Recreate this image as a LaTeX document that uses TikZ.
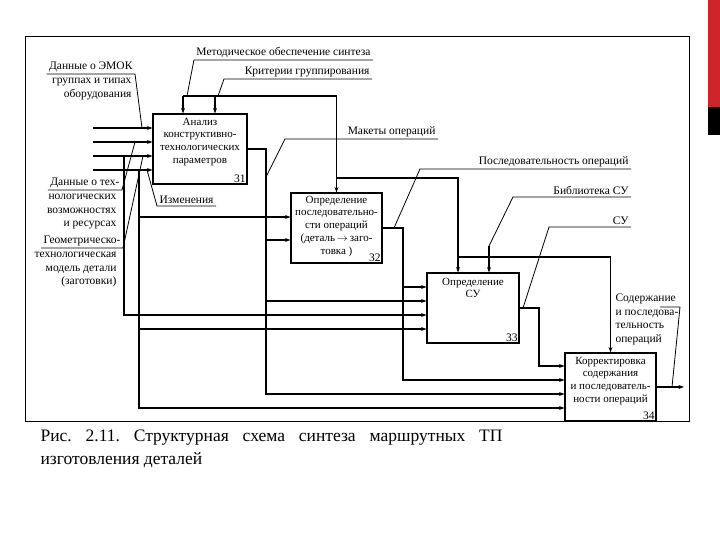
\documentclass[tikz,border=0pt]{standalone}
\usepackage{fontspec}
\setmainfont{Liberation Serif}
\usetikzlibrary{positioning, arrows.meta, calc}
\definecolor{barred}{RGB}{204,36,41}
\frenchspacing

\begin{document}
\begin{tikzpicture}[x=1pt, y=-1pt, line width=1.1pt,
  blk/.style={draw, rectangle, minimum width=92pt, minimum height=70pt, inner sep=0pt},
  btxt/.style={font=\fontsize{11}{12.7}\selectfont, align=center, inner sep=0pt},
  num/.style={font=\fontsize{11.5}{12}\selectfont, inner sep=1.5pt, anchor=south east},
  lbl/.style={font=\fontsize{11.5}{13.6}\selectfont, inner xsep=2pt, inner ysep=1.5pt},
  lead/.style={line width=0.8pt},
  arr/.style={-{Stealth[length=5.5pt, width=4pt]}}]
\useasboundingbox (0,0) rectangle (720,540);
\fill[barred] (708,0) rectangle (720,107);
\fill[black] (708,107) rectangle (720,135);
\draw[line width=1pt] (25,37) rectangle (689,421);

% blocks
\node[blk, minimum width=94pt] (b31) at (200,149) {};
\node[blk, minimum width=91pt] (b32) at (336.5,228) {};
\node[blk] (b33) at (473,308) {};
\node[blk, minimum width=91pt, minimum height=68pt] (b34) at (610.5,387) {};
\node[btxt, below=4pt of b31.north] (t31) {Анализ\\конструктивно-\\технологических\\параметров};
\node[btxt, below=3pt of b32.north] (t32) {Определение\\последовательно-\\сти операций\\(деталь\,$\to$\,заго-\\товка )\hspace{12pt}};
\node[btxt, below=5pt of b33.north] (t33) {Определение\\СУ};
\node[btxt, below=4pt of b34.north] (t34) {Корректировка\\содержания\\и последователь-\\ности операций};
\node[num] (n31) at (b31.south east) {31};
\node[num] (n32) at (b32.south east) {32};
\node[num] (n33) at (b33.south east) {33};
\node[num] (n34) at (b34.south east) {34};

% labels
\node[lbl, anchor=south] (lmet) at (283.5,60) {Методическое обеспечение синтеза};
\node[lbl, anchor=south east] (lkrit) at (372,79) {Критерии группирования};
\node[lbl, anchor=south east] (lmak) at (438,139) {Макеты операций};
\node[lbl, anchor=south east] (lpos) at (631,169) {Последовательность операций};
\node[lbl, anchor=south east] (lbib) at (631,197) {Библиотека СУ};
\node[lbl, anchor=south east] (lsu) at (631,227) {СУ};
\node[lbl, anchor=north west, align=left] (lsod) at (613,292) {Содержание\\и последова-\\тельность\\операций};
\node[lbl, anchor=south east] (lemok) at (135,74) {Данные о ЭМОК};
\node[lbl, align=right, below left=2pt and 1pt of lemok.south east] (lemok2) {группах и типах\\оборудования};
\node[lbl, anchor=south east] (ltex) at (122,190) {Данные о тех-};
\node[lbl, align=right, below left=2pt and 3pt of ltex.south east] (ltex2) {нологических\\возможностях\\и ресурсах};
\node[lbl, anchor=south east] (lgeo) at (123,248) {Геометрическо-};
\node[lbl, align=right, below left=2pt and 4pt of lgeo.south east] (lgeo2) {технологическая\\модель детали\\(заготовки)};
\node[lbl, anchor=south west] (lizm) at (157,206) {Изменения};

% inputs of 31
\coordinate (in1) at (93,128);
\coordinate (in2) at (93,142);
\coordinate (in3) at (93,156);
\coordinate (in4) at (93,170);
\draw[arr] (in1) -- (in1 -| b31.west);
\draw[arr] (in2) -- (in2 -| b31.west);
\draw[arr] (in3) -- (in3 -| b31.west);
\draw[arr] (in4) -- (in4 -| b31.west);

% branches going down on the left
\coordinate (g3) at (124,156);
\coordinate (g4) at (139,170);
\coordinate (g4a) at (139,217);
\coordinate (g4b) at (139,329);
\draw[arr] (g3) |- ($(b33.west)+(0,7)$);
\draw[arr] (g4) |- ($(b34.west)+(0,21)$);
\draw[arr] (g4a) -- (g4a -| b32.west);
\draw[arr] (g4b) -- (g4b -| b33.west);

% outputs
\coordinate (k31) at (266,240);
\coordinate (k31b) at (266,301);
\coordinate (k32) at (403,287);
\coordinate (k33) at (539,340);
\coordinate (out) at (684,387);
\draw[arr] (b31.east) -| (k31) |- ($(b34.west)+(0,7)$);
\draw[arr] (k31) -- (k31 -| b32.west);
\draw[arr] (k31b) -- (k31b -| b33.west);
\draw[arr] (b32.east) -| (k32) |- ($(b34.west)+(0,-7)$);
\draw[arr] (k32) -- (k32 -| b33.west);
\draw[arr] (b33.east) -| (k33) |- ($(b34.west)+(0,-21)$);
\draw[arr] (b34.east) -- (out);

% controls from above
\coordinate (m1) at (183,96);
\coordinate (m2) at (215,96);
\coordinate (m3) at (336.5,96);
\coordinate (m4) at (336.5,178);
\coordinate (m5) at (458,257);
\coordinate (lib) at (489,246);
\draw[arr] (m1) -- (m1 |- b31.north);
\draw[arr] (m2) -- (m2 |- b31.north);
\draw[arr] (m1) -- (m3) -- (b32.north);
\draw[arr] (m4) -| ($(b33.north)+(-15,0)$);
\draw[arr] (m5) -| (b34.north);
\draw[arr] (lib) -- (lib |- b33.north);

% leaders
\coordinate (p1) at (187,96);
\coordinate (p2) at (218,96);
\coordinate (p3) at (266,177);
\coordinate (p4) at (394,228);
\coordinate (p5) at (523,308);
\coordinate (p6) at (672,387);
\coordinate (p7) at (142,128);
\coordinate (p8) at (135,142);
\coordinate (p9) at (143,156);
\coordinate (p10) at (147,170);
\draw[lead] (lmet.south east) -- (lmet.south west) -- (p1);
\draw[lead] (lkrit.south east) -- ++(-148,0) -- (p2);
\draw[lead] (lmak.south east) -- ++(-153,0) -- (p3);
\draw[lead] (lpos.south east) -- ++(-211,0) -- (p4);
\draw[lead] (lbib.south east) -- ++(-118,0) -- (lib);
\draw[lead] (lsu.south east) -- ++(-82,0) -- (p5);
\draw[lead] (660,307) -- (680,307) -- (p6);
\draw[lead] (lemok.south west) -- (lemok.south east) -- (p7);
\draw[lead] (ltex.south west) -- (ltex.south east) -- (p8);
\draw[lead] (lgeo.south west) -- (lgeo.south east) -- (p9);
\draw[lead] (lizm.south east) -- (lizm.south west) -- (p10);

% caption
\node[anchor=north west, text width=462pt, align=justify, inner sep=0pt,
  font=\fontsize{17.5}{23}\selectfont] (cap) at (40,429)
  {Рис. 2.11. Структурная схема синтеза маршрутных ТП\linebreak изготовления деталей};
\end{tikzpicture}
\end{document}
